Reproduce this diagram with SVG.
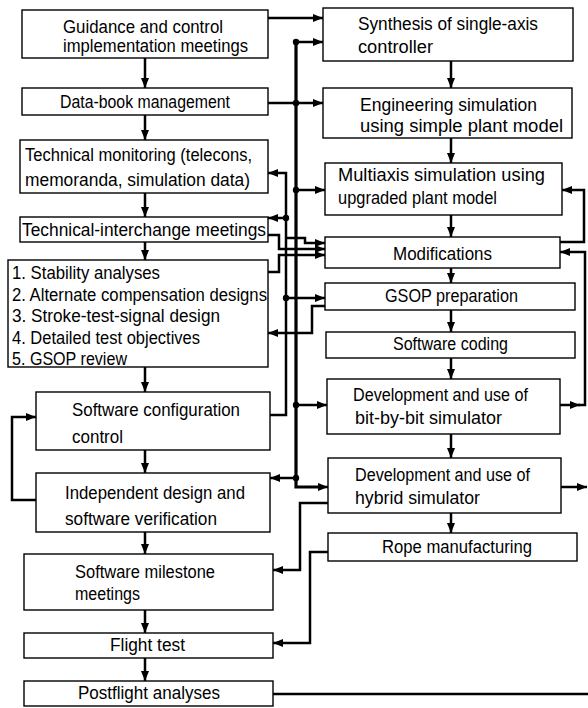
<svg xmlns="http://www.w3.org/2000/svg" width="588" height="708" viewBox="0 0 588 708">
<style>
.box{fill:#fff;stroke:#000;stroke-width:1.4}
.t{font-family:"Liberation Sans",Arial,sans-serif;font-size:17.5px;fill:#000}
.c{fill:none;stroke:#000;stroke-width:2.5;stroke-linejoin:miter}
.a{marker-end:url(#ah)}
.bus{fill:none;stroke:#000;stroke-width:3.2}
.dot{fill:#000}
</style>
<defs>
<marker id="ah" markerUnits="userSpaceOnUse" markerWidth="11" markerHeight="9" refX="10" refY="4" orient="auto">
<path d="M0,0 L10,4 L0,8 Z" fill="#000"/>
</marker>
</defs>
<rect width="588" height="708" fill="#fff"/>

<g id="connectors">
<!-- left column verticals -->
<path class="c a" d="M145,58 V88"/>
<path class="c a" d="M145,115 V140"/>
<path class="c a" d="M145,193 V217"/>
<path class="c a" d="M145,242 V260"/>
<path class="c a" d="M145,367 V392"/>
<path class="c a" d="M145,450 V473"/>
<path class="c a" d="M145,532 V554"/>
<path class="c a" d="M145,610 V633"/>
<path class="c a" d="M145,658 V681"/>
<!-- right column verticals -->
<path class="c a" d="M451,61 V88"/>
<path class="c a" d="M451,138 V163"/>
<path class="c a" d="M451,215 V237"/>
<path class="c a" d="M451,268 V283"/>
<path class="c a" d="M451,310 V332"/>
<path class="c a" d="M451,358 V379"/>
<path class="c a" d="M451,434 V458"/>
<path class="c a" d="M451,513 V533"/>
<!-- guidance to synthesis -->
<path class="c a" d="M268,18 H323"/>
<!-- main bus -->
<path class="bus" d="M296,42 V487 H320"/>
<path class="c a" d="M318,487 H328"/>
<path class="c a" d="M296,42 H323"/>
<path class="c a" d="M268,103 H323"/>
<path class="c a" d="M296,190 H325"/>
<path class="c a" d="M296,405 H327"/>
<path class="c a" d="M296,478 H270"/>
<!-- software configuration control distribution -->
<path class="c a" d="M270,415 H286 V173 H268"/>
<path class="c a" d="M286,218 H268"/>
<path class="c a" d="M286,238 H305 V243 H325"/>
<path class="c a" d="M286,298 H325"/>
<!-- into modifications -->
<path class="c a" d="M268,235 H279 V249 H325"/>
<path class="c a" d="M268,272 H279 V255 H325"/>
<!-- GSOP to list -->
<path class="c a" d="M325,306 H312 V333 H268"/>
<!-- right side feedback -->
<path class="c a" d="M560,242 H584 V190 H562"/>
<path class="c a" d="M560,405 H580"/>
<path class="c a" d="M578,405 H585 V252 H560"/>
<path class="c a" d="M561,487 H587"/>
<!-- hybrid to milestone, rope to flight -->
<path class="c a" d="M328,503 H300 V570 H273"/>
<path class="c a" d="M328,552 H310 V643 H273"/>
<!-- postflight -->
<path class="c" d="M273,694 H588"/>
<!-- verification loop -->
<path class="c a" d="M36,500 H12 V417 H36"/>
<!-- junction dots -->
<circle class="dot" cx="296" cy="42" r="3.2"/>
<circle class="dot" cx="296" cy="103" r="3.2"/>
<circle class="dot" cx="296" cy="190" r="3.2"/>
<circle class="dot" cx="296" cy="405" r="3.2"/>
<circle class="dot" cx="296" cy="478" r="3.2"/>
<circle class="dot" cx="286" cy="218" r="3.2"/>
<circle class="dot" cx="286" cy="298" r="3.2"/>
</g>

<g id="n-guidance"><rect class="box" x="22" y="10" width="246" height="48"/>
<text class="t" x="63" y="33" textLength="160" lengthAdjust="spacingAndGlyphs">Guidance and control</text>
<text class="t" x="63" y="52" textLength="185" lengthAdjust="spacingAndGlyphs">implementation meetings</text></g>

<g id="n-databook"><rect class="box" x="22" y="88" width="246" height="27"/>
<text class="t" x="60" y="108" textLength="170" lengthAdjust="spacingAndGlyphs">Data-book management</text></g>

<g id="n-techmon"><rect class="box" x="20" y="140" width="248" height="53"/>
<text class="t" x="25" y="161" textLength="227" lengthAdjust="spacingAndGlyphs">Technical monitoring (telecons,</text>
<text class="t" x="25" y="186" textLength="225" lengthAdjust="spacingAndGlyphs">memoranda, simulation data)</text></g>

<g id="n-techint"><rect class="box" x="20" y="217" width="248" height="25"/>
<text class="t" x="22" y="236" textLength="244" lengthAdjust="spacingAndGlyphs">Technical-interchange meetings</text></g>

<g id="n-list"><rect class="box" x="8" y="260" width="260" height="107"/>
<text class="t" x="12" y="279" textLength="148" lengthAdjust="spacingAndGlyphs">1. Stability analyses</text>
<text class="t" x="12" y="301" textLength="255" lengthAdjust="spacingAndGlyphs">2. Alternate compensation designs</text>
<text class="t" x="12" y="322" textLength="208" lengthAdjust="spacingAndGlyphs">3. Stroke-test-signal design</text>
<text class="t" x="12" y="344" textLength="188" lengthAdjust="spacingAndGlyphs">4. Detailed test objectives</text>
<text class="t" x="12" y="365" textLength="115" lengthAdjust="spacingAndGlyphs">5. GSOP review</text></g>

<g id="n-scc"><rect class="box" x="36" y="392" width="234" height="58"/>
<text class="t" x="72" y="416" textLength="168" lengthAdjust="spacingAndGlyphs">Software configuration</text>
<text class="t" x="72" y="443" textLength="51" lengthAdjust="spacingAndGlyphs">control</text></g>

<g id="n-idv"><rect class="box" x="36" y="473" width="234" height="59"/>
<text class="t" x="65" y="499" textLength="180" lengthAdjust="spacingAndGlyphs">Independent design and</text>
<text class="t" x="65" y="525" textLength="152" lengthAdjust="spacingAndGlyphs">software verification</text></g>

<g id="n-milestone"><rect class="box" x="24" y="554" width="249" height="56"/>
<text class="t" x="75" y="578" textLength="140" lengthAdjust="spacingAndGlyphs">Software milestone</text>
<text class="t" x="75" y="600" textLength="65" lengthAdjust="spacingAndGlyphs">meetings</text></g>

<g id="n-flight"><rect class="box" x="24" y="633" width="249" height="25"/>
<text class="t" x="110" y="651" textLength="75" lengthAdjust="spacingAndGlyphs">Flight test</text></g>

<g id="n-postflight"><rect class="box" x="24" y="681" width="249" height="25"/>
<text class="t" x="78" y="699" textLength="142" lengthAdjust="spacingAndGlyphs">Postflight analyses</text></g>

<g id="n-synthesis"><rect class="box" x="323" y="8" width="250" height="53"/>
<text class="t" x="358" y="30" textLength="180" lengthAdjust="spacingAndGlyphs">Synthesis of single-axis</text>
<text class="t" x="358" y="53" textLength="75" lengthAdjust="spacingAndGlyphs">controller</text></g>

<g id="n-engsim"><rect class="box" x="323" y="88" width="249" height="50"/>
<text class="t" x="360" y="111" textLength="177" lengthAdjust="spacingAndGlyphs">Engineering simulation</text>
<text class="t" x="360" y="132" textLength="203" lengthAdjust="spacingAndGlyphs">using simple plant model</text></g>

<g id="n-multiaxis"><rect class="box" x="325" y="163" width="237" height="52"/>
<text class="t" x="338" y="181" textLength="207" lengthAdjust="spacingAndGlyphs">Multiaxis simulation using</text>
<text class="t" x="338" y="204" textLength="159" lengthAdjust="spacingAndGlyphs">upgraded plant model</text></g>

<g id="n-modifications"><rect class="box" x="325" y="237" width="235" height="31"/>
<text class="t" x="393" y="260" textLength="99" lengthAdjust="spacingAndGlyphs">Modifications</text></g>

<g id="n-gsop"><rect class="box" x="325" y="283" width="250" height="27"/>
<text class="t" x="385" y="302" textLength="133" lengthAdjust="spacingAndGlyphs">GSOP preparation</text></g>

<g id="n-coding"><rect class="box" x="326" y="332" width="249" height="26"/>
<text class="t" x="393" y="350" textLength="115" lengthAdjust="spacingAndGlyphs">Software coding</text></g>

<g id="n-bitbybit"><rect class="box" x="327" y="379" width="233" height="55"/>
<text class="t" x="353" y="401" textLength="175" lengthAdjust="spacingAndGlyphs">Development and use of</text>
<text class="t" x="355" y="424" textLength="147" lengthAdjust="spacingAndGlyphs">bit-by-bit simulator</text></g>

<g id="n-hybrid"><rect class="box" x="328" y="458" width="233" height="55"/>
<text class="t" x="355" y="481" textLength="175" lengthAdjust="spacingAndGlyphs">Development and use of</text>
<text class="t" x="355" y="504" textLength="125" lengthAdjust="spacingAndGlyphs">hybrid simulator</text></g>

<g id="n-rope"><rect class="box" x="328" y="533" width="249" height="28"/>
<text class="t" x="382" y="553" textLength="150" lengthAdjust="spacingAndGlyphs">Rope manufacturing</text></g>
</svg>
